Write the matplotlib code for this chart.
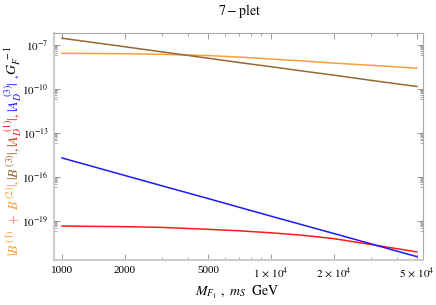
import numpy as np
import matplotlib
matplotlib.use('Agg')
import matplotlib.pyplot as plt
from matplotlib.ticker import FixedLocator, NullFormatter

plt.rcParams['font.family'] = ['Liberation Serif', 'DejaVu Serif']
plt.rcParams['mathtext.fontset'] = 'stix'

# masses in GeV
mass = [1000, 2000, 3000, 5000, 7000, 10000, 14000, 20000, 32000, 50000]

# amplitudes
b12 = [2.7e-8, 2.55e-8, 2.3e-8, 1.9e-8, 1.5e-8, 1.1e-8, 8.2e-9, 5.8e-9, 3.9e-9, 2.6e-9]      # |B1 + B2|
b3 = [2.9e-7, 7.6e-8, 3.4e-8, 1.26e-8, 6.4e-9, 3.3e-9, 1.7e-9, 8.7e-10, 3.4e-10, 1.45e-10]   # |B3|
ad1 = [4.2e-20, 3.8e-20, 3.4e-20, 2.5e-20, 2.0e-20, 1.45e-20, 1.0e-20, 5.8e-21, 2.0e-21, 7.2e-22]  # |A_D1|
ad3 = [1.9e-15, 1.2e-16, 2.4e-17, 3.2e-18, 8.3e-19, 2.0e-19, 5.3e-20, 1.3e-20, 2.0e-21, 3.4e-22]  # |A_D3|

xticks = [1000, 2000, 5000, 10000, 20000, 50000]
xlabels = ['1000', '2000', '5000', r'$1\,\times\,10^{4}$', r'$2\,\times\,10^{4}$', r'$5\,\times\,10^{4}$']
yexp = [-7, -10, -13, -16, -19]

ORANGE = '#f7a035'
BROWN = '#996633'
RED = '#ff1a1a'
BLUE = '#1a1aff'

fig = plt.figure(figsize=(4.36, 3.05), dpi=100)
ax = fig.add_axes([0.1239, 0.1475, 0.8463, 0.7443])

ax.plot(mass, b12, color=ORANGE, lw=1.1)
ax.plot(mass, b3, color=BROWN, lw=1.1)
ax.plot(mass, ad1, color=RED, lw=1.1)
ax.plot(mass, ad3, color=BLUE, lw=1.1)

ax.set_xscale('log')
ax.set_yscale('log')
ax.set_xlim(916, 53500)
ax.set_ylim(10 ** -21.7, 10 ** -6.18)

ax.xaxis.set_major_locator(FixedLocator(xticks))
ax.set_xticklabels(xlabels)
xminor = [3000, 4000, 6000, 7000, 8000, 9000, 30000, 40000]
ax.xaxis.set_minor_locator(FixedLocator(xminor))
ax.xaxis.set_minor_formatter(NullFormatter())

ax.yaxis.set_major_locator(FixedLocator([10.0 ** e for e in yexp]))
ax.set_yticklabels([r'$10^{%d}$' % e for e in yexp])
yminor = [k * 10.0 ** (e - 1) for e in yexp for k in range(2, 10)]
ax.yaxis.set_minor_locator(FixedLocator(yminor))
ax.yaxis.set_minor_formatter(NullFormatter())

ax.tick_params(which='both', direction='in', top=True, right=True,
               color='#888888', labelsize=8, pad=4)
ax.tick_params(which='major', length=4, width=0.6)
ax.tick_params(which='minor', length=2, width=0.5)

for s in ['top', 'right']:
    ax.spines[s].set_color('#aaaaaa')
    ax.spines[s].set_linewidth(0.8)
for s in ['left', 'bottom']:
    ax.spines[s].set_color('#cccccc')
    ax.spines[s].set_linewidth(1.5)

fig.text(0.549, 0.965, r'$7-\mathrm{plet}$', ha='center', va='center', fontsize=10)
fig.text(0.545, 0.04, r'$M_{F_1}\ ,\ m_S\ \ \mathrm{GeV}$', ha='center', va='center', fontsize=10)

# multi-coloured y label, built from pieces stacked bottom to top
pieces = [
    (r'$|B^{\,(1)}\ +\ B^{\,(2)}|,\ $', ORANGE),
    (r'$|B^{\,(3)}|,\ $', BROWN),
    (r'$|A_D^{\ (1)}|,\ $', RED),
    (r'$|A_D^{\ (3)}|\ ,\ $', BLUE),
    (r'$G_F^{\ -1}$', 'black'),
]
renderer = fig.canvas.get_renderer()
texts = []
total = 0
for s, c in pieces:
    t = fig.text(0, 0, s, color=c, rotation=90, fontsize=10, ha='center', va='bottom')
    h = t.get_window_extent(renderer).height
    texts.append((t, h))
    total += h
ycen = 305 - 0.5 * (270 + 32)
ystart = ycen - total / 2
for t, h in texts:
    t.set_position((13 / 436, ystart / 305))
    ystart += h

fig.savefig('out.png', dpi=100)
